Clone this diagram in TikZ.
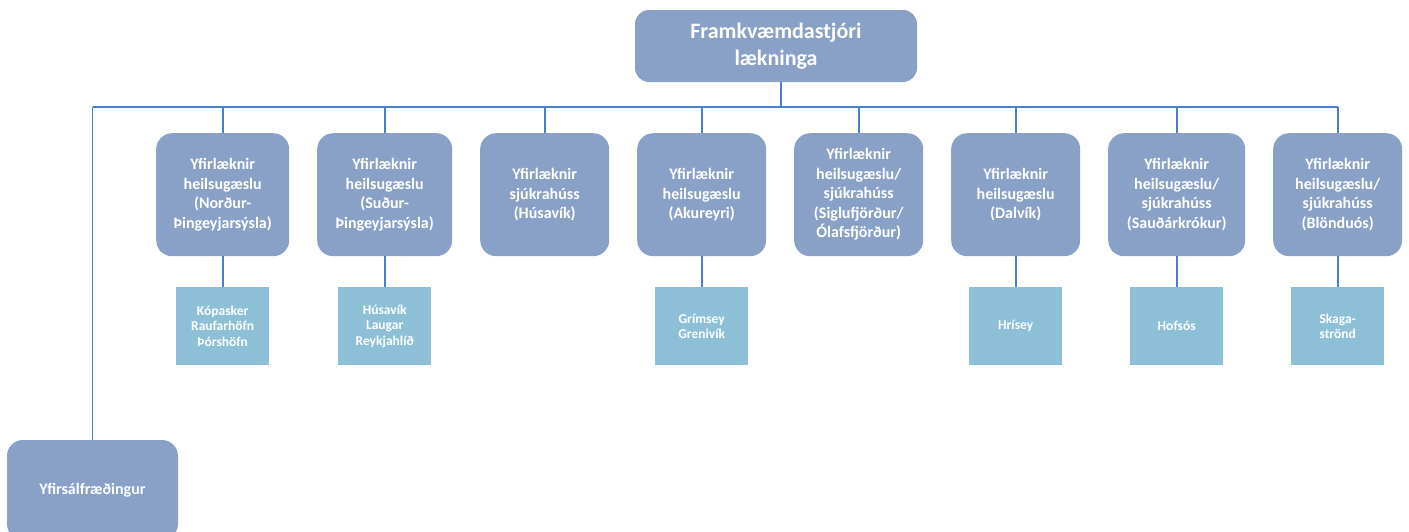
\documentclass[tikz,border=0pt]{standalone}
\usepackage{fontspec}
\setmainfont{Carlito}
\definecolor{chiefblue}{RGB}{138,161,199}
\definecolor{siteblue}{RGB}{141,192,214}
\definecolor{lineblue}{RGB}{74,126,208}
\begin{document}
\begin{tikzpicture}
  [x=1pt,y=-1pt,
   every node/.style={text=white,align=center},
   chief/.style={fill=chiefblue,rounded corners=14pt,minimum width=282pt,minimum height=72pt,
     font=\fontsize{22}{27}\selectfont\bfseries},
   head/.style={anchor=center,fill=chiefblue,rounded corners=16pt,minimum width=129pt,minimum height=123pt,
     inner xsep=2pt,font=\fontsize{16}{19.5}\selectfont\bfseries},
   site/.style={anchor=center,fill=siteblue,minimum width=93pt,minimum height=78pt,
     font=\fontsize{13.5}{15.5}\selectfont\bfseries},
   link/.style={draw=lineblue,line width=1.6pt}]

  \node[chief] (fkl) at (776,46) {Framkvæmdastjóri\\lækninga};

  \matrix (org) [column sep=28pt,row sep=31pt,inner sep=0pt,anchor=north west] at (156,133)
  {
    \node[head,text width=129pt,minimum width=133pt] (nordur) {Yfirlæknir\\heilsugæslu\\(Norður-\\Þingeyjarsýsla)}; &
    \node[head,text width=131pt,minimum width=135pt] (sudur) {Yfirlæknir\\heilsugæslu\\(Suður-\\Þingeyjarsýsla)}; &
    \node[head] (husavik) {Yfirlæknir\\sjúkrahúss\\(Húsavík)}; &
    \node[head] (akureyri) {Yfirlæknir\\heilsugæslu\\(Akureyri)}; &
    \node[head,text width=125pt] (siglu) {Yfirlæknir\\heilsugæslu/\\sjúkrahúss\\(Siglufjörður/\\Ólafsfjörður)}; &
    \node[head] (dalvik) {Yfirlæknir\\heilsugæslu\\(Dalvík)}; &
    \node[head,text width=133pt,minimum width=137pt] (saudar) {Yfirlæknir\\heilsugæslu/\\sjúkrahúss\\(Sauðárkrókur)}; &
    \node[head] (blondu) {Yfirlæknir\\heilsugæslu/\\sjúkrahúss\\(Blönduós)}; \\
    \node[site] (kopasker) {Kópasker\\Raufarhöfn\\Þórshöfn}; &
    \node[site] (laugar) {Húsavík\\Laugar\\Reykjahlíð}; & &
    \node[site] (grimsey) {Grímsey\\Grenivík}; & &
    \node[site] (hrisey) {Hrísey}; &
    \node[site] (hofsos) {Hofsós}; &
    \node[site] (skaga) {Skaga-\\strönd}; \\
  };

  % page size; the lower box runs off the page
  \useasboundingbox (0,0) rectangle (1409,531);
  \node[head,minimum width=171pt,minimum height=100pt] (psy) at (92.5,490) {Yfirsálfræðingur};

  \coordinate (bus) at (92.5,107);
  \draw[link] ([xshift=5pt]fkl.south) -- ([xshift=5pt]fkl.south |- bus);
  \draw[link] (bus) -- (bus -| blondu.north);
  \draw[link] (bus) -- (psy);
  \foreach \n in {nordur,sudur,husavik,akureyri,siglu,dalvik,saudar,blondu}
    \draw[link] (bus -| \n.north) -- (\n.north);
  \foreach \a/\b in {nordur/kopasker,sudur/laugar,akureyri/grimsey,dalvik/hrisey,saudar/hofsos,blondu/skaga}
    \draw[link] (\a) -- (\b);
\end{tikzpicture}
\end{document}
